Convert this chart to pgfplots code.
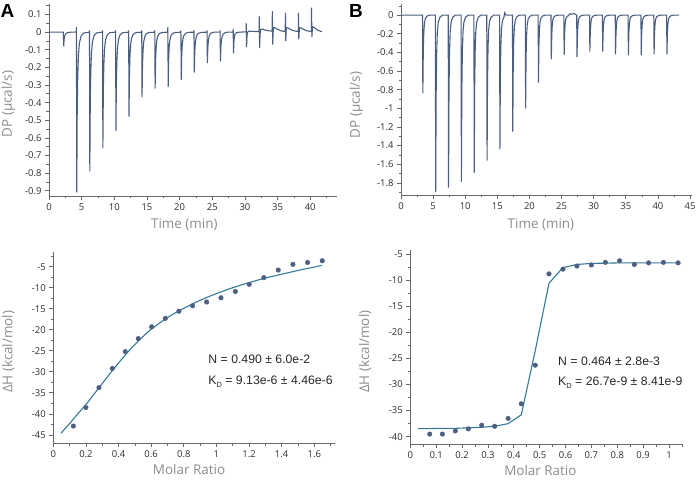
\documentclass[border=0pt]{standalone}
\usepackage{pgfplots}
\pgfplotsset{compat=1.18}
\usepackage{fontspec}
\setmainfont{Open Sans}
\newfontfamily\arialf{Liberation Sans}
\definecolor{trace}{RGB}{74,94,128}
\definecolor{dots}{RGB}{78,96,130}
\definecolor{fitc}{RGB}{52,122,152}
\definecolor{axc}{RGB}{105,105,105}
\definecolor{labc}{RGB}{140,140,140}
\definecolor{tickc}{RGB}{45,45,45}
\newcommand{\KD}{K\raisebox{-0.5ex}{\fontsize{7.5}{8}\selectfont D}}
\pgfplotsset{
  itc/.style={
    scale only axis,
    anchor=south west,
    axis x line*=bottom, axis y line*=left,
    axis line style={axc, line width=0.8bp, -},
    every tick/.style={axc, line width=0.7bp},
    tick align=outside,
    major tick length=4bp, minor tick length=2.5bp,
    tick label style={font=\fontsize{9.5}{10}\selectfont, text=tickc},
    /pgf/number format/assume math mode=true,
    label style={font=\fontsize{13.5}{14}\selectfont, text=labc},
    xlabel style={anchor=center},
    ylabel style={anchor=center},
  }
}
\begin{document}
\begin{tikzpicture}
\path[use as bounding box] (0,0) rectangle (696bp,480bp);

% ---------------- A top ----------------
\begin{axis}[itc, at={(49bp,284bp)}, width=288bp, height=192bp,
  xmin=0, xmax=44.1, ymin=-0.93, ymax=0.16,
  xtick={0,5,10,15,20,25,30,35,40},
  minor xtick={2.5,7.5,12.5,17.5,22.5,27.5,32.5,37.5,42.5},
  ytick={-0.9,-0.8,-0.7,-0.6,-0.5,-0.4,-0.3,-0.2,-0.1,0,0.1},
  minor ytick={-0.85,-0.75,-0.65,-0.55,-0.45,-0.35,-0.25,-0.15,-0.05,0.05,0.15},
  xlabel={Time (min)}, ylabel={DP (μcal/s)},
  xlabel style={at={(axis description cs:0.47,-0.151)}},
  ylabel style={at={(axis description cs:-0.141,0.479)}},
]
\addplot[trace, line width=1.1bp] coordinates {
(0,0) (2.17,0) (2.2,0) (2.25,-0.08) (2.32,-0.04) (2.4,-0.022) (2.5,-0.012) (2.65,-0.006) (2.9,-0.002) (3.3,0)
(4.17,0) (4.2,0.03) (4.25,-0.91) (4.32,-0.455) (4.4,-0.255) (4.5,-0.137) (4.65,-0.064) (4.9,-0.023) (5.3,-0.005)
(6.17,0) (6.2,0.01) (6.25,-0.79) (6.32,-0.395) (6.4,-0.221) (6.5,-0.119) (6.65,-0.055) (6.9,-0.02) (7.3,-0.004)
(8.17,0) (8.2,0.01) (8.25,-0.66) (8.32,-0.33) (8.4,-0.185) (8.5,-0.099) (8.65,-0.046) (8.9,-0.017) (9.3,-0.003)
(10.17,0) (10.2,0.01) (10.25,-0.56) (10.32,-0.28) (10.4,-0.157) (10.5,-0.084) (10.65,-0.039) (10.9,-0.014) (11.3,-0.003)
(12.17,0) (12.2,0.01) (12.25,-0.48) (12.32,-0.24) (12.4,-0.134) (12.5,-0.072) (12.65,-0.034) (12.9,-0.012) (13.3,-0.002)
(14.17,0) (14.2,0.01) (14.25,-0.37) (14.32,-0.185) (14.4,-0.104) (14.5,-0.056) (14.65,-0.026) (14.9,-0.009) (15.3,-0.002)
(16.17,0) (16.2,0.01) (16.25,-0.32) (16.32,-0.16) (16.4,-0.09) (16.5,-0.048) (16.65,-0.022) (16.9,-0.008) (17.3,-0.002)
(18.17,0) (18.2,0.03) (18.25,-0.31) (18.32,-0.155) (18.4,-0.087) (18.5,-0.047) (18.65,-0.022) (18.9,-0.008) (19.3,-0.002)
(20.17,0) (20.2,0.01) (20.25,-0.27) (20.32,-0.135) (20.4,-0.076) (20.5,-0.041) (20.65,-0.019) (20.9,-0.007) (21.3,-0.001)
(22.17,0) (22.2,0.01) (22.25,-0.23) (22.32,-0.115) (22.4,-0.064) (22.5,-0.035) (22.65,-0.016) (22.9,-0.006) (23.3,-0.001)
(24.17,0) (24.2,0.01) (24.25,-0.175) (24.32,-0.088) (24.4,-0.049) (24.5,-0.026) (24.65,-0.012) (24.9,-0.004) (25.3,0)
(26.17,0) (26.2,0.01) (26.25,-0.165) (26.32,-0.083) (26.4,-0.046) (26.5,-0.025) (26.65,-0.012) (26.9,-0.004) (27.3,0)
(28.17,0) (28.2,0.02) (28.25,-0.12) (28.32,-0.05) (28.4,-0.025) (28.5,-0.01) (28.7,-0.003) (29.1,0)
(30.17,0.002) (30.2,0.05) (30.25,-0.085) (30.32,-0.02) (30.4,0.0) (30.6,0.006) (31.0,0.005) (31.6,0.004)
(32.17,0.004) (32.2,0.09) (32.25,-0.09) (32.32,-0.01) (32.4,0.015) (32.6,0.018) (33.0,0.013) (33.6,0.008)
(34.17,0.006) (34.2,0.12) (34.25,-0.07) (34.32,0.0) (34.4,0.025) (34.6,0.025) (35.0,0.016) (35.6,0.007)
(36.17,0.004) (36.2,0.11) (36.25,-0.05) (36.32,0.01) (36.4,0.025) (36.6,0.024) (37.0,0.015) (37.6,0.007)
(38.17,0.004) (38.2,0.11) (38.25,-0.04) (38.32,0.01) (38.4,0.025) (38.6,0.024) (39.0,0.015) (39.6,0.007)
(40.17,0.004) (40.2,0.14) (40.25,-0.03) (40.32,0.015) (40.4,0.03) (40.6,0.027) (41.0,0.015) (41.5,0.006) (41.8,0.003)
};
\end{axis}

% ---------------- B top ----------------
\begin{axis}[itc, at={(401bp,285bp)}, width=291bp, height=191bp,
  xmin=0, xmax=45.3, ymin=-1.93, ymax=0.12,
  xtick={0,5,10,15,20,25,30,35,40,45},
  minor xtick={2.5,7.5,12.5,17.5,22.5,27.5,32.5,37.5,42.5},
  ytick={-1.8,-1.6,-1.4,-1.2,-1,-0.8,-0.6,-0.4,-0.2,0},
  minor ytick={-1.9,-1.7,-1.5,-1.3,-1.1,-0.9,-0.7,-0.5,-0.3,-0.1,0.1},
  xlabel={Time (min)}, ylabel={DP (μcal/s)},
  xlabel style={at={(axis description cs:0.481,-0.157)}},
  ylabel style={at={(axis description cs:-0.153,0.471)}},
]
\addplot[trace, line width=1.1bp] coordinates {
(0,0) (3.32,0) (3.35,0) (3.40,-0.84) (3.47,-0.378) (3.55,-0.185) (3.65,-0.084) (3.80,-0.034) (4.05,-0.010) (4.45,0)
(5.35,0) (5.40,-1.90) (5.47,-0.855) (5.55,-0.418) (5.65,-0.19) (5.80,-0.076) (6.05,-0.023) (6.45,0)
(7.35,0) (7.40,-1.85) (7.47,-0.833) (7.55,-0.407) (7.65,-0.185) (7.80,-0.074) (8.05,-0.022) (8.45,0)
(9.35,0) (9.40,-1.79) (9.47,-0.806) (9.55,-0.394) (9.65,-0.179) (9.80,-0.072) (10.05,-0.021) (10.45,0)
(11.35,0) (11.40,-1.69) (11.47,-0.761) (11.55,-0.372) (11.65,-0.169) (11.80,-0.068) (12.05,-0.020) (12.45,0)
(13.35,0) (13.40,-1.56) (13.47,-0.702) (13.55,-0.343) (13.65,-0.156) (13.80,-0.062) (14.05,-0.019) (14.45,0)
(15.35,0) (15.40,-1.44) (15.47,-0.648) (15.55,-0.317) (15.65,-0.144) (15.80,-0.058) (16.05,-0.017) (16.15,0.025) (16.3,0.005) (16.45,0)
(17.35,0) (17.40,-1.25) (17.47,-0.563) (17.55,-0.275) (17.65,-0.125) (17.80,-0.05) (18.05,-0.015) (18.45,0)
(19.35,0) (19.40,-1.00) (19.47,-0.45) (19.55,-0.22) (19.65,-0.1) (19.80,-0.04) (20.05,-0.012) (20.45,0)
(21.35,0) (21.40,-0.725) (21.47,-0.326) (21.55,-0.16) (21.65,-0.073) (21.80,-0.029) (22.05,-0.009) (22.45,0)
(23.35,0) (23.40,-0.475) (23.47,-0.214) (23.55,-0.105) (23.65,-0.048) (23.80,-0.019) (24.05,-0.006) (24.45,0)
(25.35,0) (25.40,-0.43) (25.47,-0.194) (25.55,-0.095) (25.65,-0.043) (25.80,-0.017) (26.05,-0.005) (26.3,0.015) (26.6,0.01) (26.9,0.018) (27.2,0.008)
(27.35,0) (27.40,-0.45) (27.47,-0.203) (27.55,-0.099) (27.65,-0.045) (27.80,-0.018) (28.05,-0.005) (28.45,0)
(29.35,0) (29.40,-0.39) (29.47,-0.176) (29.55,-0.086) (29.65,-0.039) (29.80,-0.016) (30.05,-0.005) (30.45,0)
(31.35,0) (31.40,-0.39) (31.47,-0.176) (31.55,-0.086) (31.65,-0.039) (31.80,-0.016) (32.05,-0.005) (32.45,0)
(33.35,0) (33.40,-0.42) (33.47,-0.189) (33.55,-0.092) (33.65,-0.042) (33.80,-0.017) (34.05,-0.005) (34.45,0)
(35.35,0) (35.40,-0.43) (35.47,-0.194) (35.55,-0.095) (35.65,-0.043) (35.80,-0.017) (36.05,-0.005) (36.45,0)
(37.35,0) (37.40,-0.43) (37.47,-0.194) (37.55,-0.095) (37.65,-0.043) (37.80,-0.017) (38.05,-0.005) (38.45,0)
(39.35,0) (39.40,-0.42) (39.47,-0.189) (39.55,-0.092) (39.65,-0.042) (39.80,-0.017) (40.05,-0.005) (40.45,0)
(41.35,0) (41.40,-0.42) (41.47,-0.189) (41.55,-0.092) (41.65,-0.042) (41.80,-0.017) (42.05,-0.005) (42.45,0) (43.3,0)
};
\end{axis}

% ---------------- A bottom ----------------
\begin{axis}[itc, at={(53.3bp,36.7bp)}, width=281.7bp, height=191.6bp,
  xmin=0, xmax=1.727, ymin=-47, ymax=-1.44,
  xtick={0,0.2,0.4,0.6,0.8,1,1.2,1.4,1.6},
  minor xtick={0.1,0.3,0.5,0.7,0.9,1.1,1.3,1.5,1.7},
  ytick={-45,-40,-35,-30,-25,-20,-15,-10,-5},
  minor ytick={-42.5,-37.5,-32.5,-27.5,-22.5,-17.5,-12.5,-7.5,-2.5},
  xlabel={Molar Ratio}, ylabel={ΔH (kcal/mol)},
  xlabel style={at={(axis description cs:0.482,-0.137)}},
  ylabel style={at={(axis description cs:-0.16,0.478)}},
]
\addplot[fitc, line width=1.1bp, smooth] coordinates {
(0.047,-44.6) (0.1,-42.3) (0.15,-40.0) (0.2,-37.8) (0.25,-35.3) (0.3,-32.8) (0.35,-30.3)
(0.4,-27.9) (0.45,-25.6) (0.5,-23.5) (0.55,-21.6) (0.6,-19.9) (0.7,-17.1) (0.8,-14.9)
(0.9,-13.0) (1.0,-11.4) (1.1,-10.0) (1.2,-8.8) (1.3,-7.7) (1.4,-6.8) (1.5,-5.9) (1.6,-5.1) (1.645,-4.7)
};
\addplot[only marks, mark=*, mark size=2.3bp, dots] coordinates {
(0.123,-42.9) (0.200,-38.5) (0.280,-33.75) (0.362,-29.2) (0.441,-25.2) (0.521,-22.1)
(0.603,-19.3) (0.687,-17.3) (0.770,-15.6) (0.854,-14.3) (0.940,-13.4) (1.028,-12.4)
(1.116,-10.9) (1.201,-9.2) (1.291,-7.6) (1.379,-5.8) (1.469,-4.45) (1.559,-4.0) (1.649,-3.6)
};
\node[anchor=base west, inner sep=0, font=\arialf\fontsize{12.3}{13}\selectfont, text=black!85]
  at (axis cs:0.950,-28.1) {N = 0.490 ± 6.0e-2};
\node[anchor=base west, inner sep=0, font=\arialf\fontsize{12.3}{13}\selectfont, text=black!85]
  at (axis cs:0.950,-32.9) {\KD{} = 9.13e-6 ± 4.46e-6};
\end{axis}

% ---------------- B bottom ----------------
\begin{axis}[itc, at={(410.3bp,36bp)}, width=272.7bp, height=194bp,
  xmin=0, xmax=1.054, ymin=-41.4, ymax=-4.23,
  xtick={0,0.1,0.2,0.3,0.4,0.5,0.6,0.7,0.8,0.9,1},
  minor xtick={0.05,0.15,0.25,0.35,0.45,0.55,0.65,0.75,0.85,0.95,1.05},
  ytick={-40,-35,-30,-25,-20,-15,-10,-5},
  minor ytick={-37.5,-32.5,-27.5,-22.5,-17.5,-12.5,-7.5},
  xlabel={Molar Ratio}, ylabel={ΔH (kcal/mol)},
  xlabel style={at={(axis description cs:0.477,-0.135)}},
  ylabel style={at={(axis description cs:-0.166,0.476)}},
]
\addplot[fitc, line width=1.1bp] coordinates {
(0.03,-38.45) (0.075,-38.45) (0.124,-38.4) (0.174,-38.4) (0.224,-38.3) (0.276,-38.2)
(0.326,-38.0) (0.378,-37.5) (0.429,-35.8) (0.483,-23.5) (0.536,-10.6) (0.590,-7.6)
(0.644,-7.0) (0.700,-6.8) (0.754,-6.75) (0.809,-6.7) (0.866,-6.7) (0.921,-6.7) (0.978,-6.7) (1.035,-6.7)
};
\addplot[only marks, mark=*, mark size=2.3bp, dots] coordinates {
(0.075,-39.5) (0.124,-39.5) (0.174,-38.9) (0.224,-38.5) (0.276,-37.8) (0.326,-38.0)
(0.378,-36.5) (0.429,-33.7) (0.483,-26.3) (0.536,-8.8) (0.590,-7.9) (0.644,-7.3)
(0.700,-7.1) (0.754,-6.6) (0.809,-6.3) (0.866,-7.0) (0.921,-6.7) (0.978,-6.6) (1.035,-6.7)
};
\node[anchor=base west, inner sep=0, font=\arialf\fontsize{12.3}{13}\selectfont, text=black!85]
  at (axis cs:0.571,-26.3) {N = 0.464 ± 2.8e-3};
\node[anchor=base west, inner sep=0, font=\arialf\fontsize{12.3}{13}\selectfont, text=black!85]
  at (axis cs:0.571,-30.2) {\KD{} = 26.7e-9 ± 8.41e-9};
\end{axis}

\node[anchor=north west, inner sep=0, font=\arialf\bfseries\fontsize{19}{19}\selectfont] at (0.5bp,476bp) {A};
\node[anchor=north west, inner sep=0, font=\arialf\bfseries\fontsize{19}{19}\selectfont] at (349bp,476bp) {B};
\end{tikzpicture}
\end{document}
